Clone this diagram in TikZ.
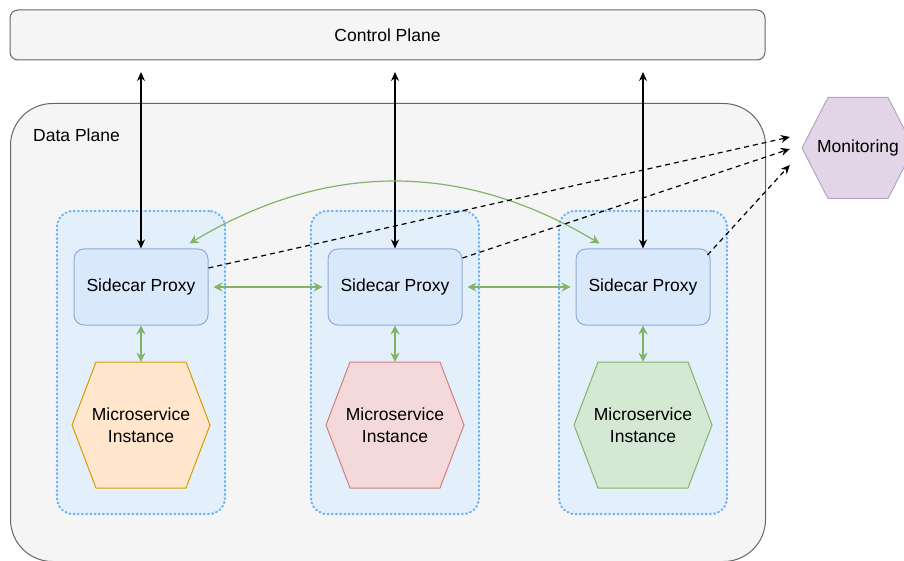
\documentclass[tikz,border=0pt]{standalone}
\usepackage{fontspec}
\setmainfont{Liberation Sans}
\usetikzlibrary{arrows.meta}

\definecolor{planefill}{HTML}{F5F5F5}
\definecolor{planeline}{HTML}{666666}
\definecolor{podfill}{HTML}{E3F0FB}
\definecolor{podline}{HTML}{66B2FF}
\definecolor{proxyfill}{HTML}{DAE8FC}
\definecolor{proxyline}{HTML}{8EACD6}
\definecolor{linkgreen}{HTML}{82B366}
\definecolor{orangefill}{HTML}{FFE6CC}
\definecolor{orangeline}{HTML}{D79B00}
\definecolor{redfill}{HTML}{F4D9DA}
\definecolor{redline}{HTML}{CF7F7F}
\definecolor{greenfill}{HTML}{D5E8D4}
\definecolor{greenline}{HTML}{82B366}
\definecolor{monfill}{HTML}{E1D5E7}
\definecolor{monline}{HTML}{B9A2C8}

\newcommand\boxfont{\fontsize{17.5}{22}\selectfont}

\tikzset{
  plane/.style={draw=planeline, fill=planefill, line width=1pt},
  pod/.style={draw=podline, fill=podfill, line width=2.2pt, line cap=round,
    dash pattern=on 0.8pt off 3.4pt, rounded corners=16,
    minimum width=168, minimum height=303},
  proxy/.style={draw=proxyline, fill=proxyfill, line width=1pt, rounded corners=10,
    minimum width=134, minimum height=76},
  hexlabel/.style={align=center, minimum width=138, minimum height=126},
  ctrl/.style={<->, line width=1.2pt, >={Stealth[length=9pt,width=8pt]}},
  link/.style={<->, draw=linkgreen, line width=1.4pt,
    >={Stealth[length=9pt,width=9pt]}},
  metrics/.style={->, line width=1.2pt, dash pattern=on 5pt off 4pt,
    >={Stealth[length=9pt,width=8pt]}}
}

\begin{document}
\begin{tikzpicture}[x=1pt, y=1pt, font=\boxfont]
    \useasboundingbox[fill=white] (0,0) rectangle (904,-561);

    \node[plane, rounded corners=8, minimum width=755, minimum height=50] (cp) at (387.5,-35) {Control Plane};
    \node[plane, rounded corners=42, minimum width=755, minimum height=458, anchor=north west] (dp) at (10,-103) {};
    \node[anchor=west, inner sep=0] (dplabel) at (33,-135) {Data Plane};

    % Monitoring hexagon
    \draw[fill=monfill, draw=monline, line width=1pt, shift={(858,-148)}]
      (-56,0) -- (-30,50.5) -- (30,50.5) -- (56,0) -- (30,-50.5) -- (-30,-50.5) -- cycle;
    \node[minimum width=112, minimum height=101] (mon) at (858,-148) {Monitoring};
    \coordinate (mon1) at ([shift={(-12,11)}]mon.west);
    \coordinate (mon2) at ([shift={(-12,-1)}]mon.west);
    \coordinate (mon3) at ([shift={(-12,-17)}]mon.west);

    \foreach \n/\x/\msfill/\msline in {1/141/orangefill/orangeline, 2/395/redfill/redline, 3/643/greenfill/greenline} {
      \node[pod] (pod\n) at (\x,-362.5) {};
      \node[proxy] (sp\n) at (\x,-287) {Sidecar Proxy};

      \draw[fill=\msfill, draw=\msline, line width=1pt, shift={(\x,-425)}]
        (-69,0) -- (-45,63) -- (45,63) -- (69,0) -- (45,-63) -- (-45,-63) -- cycle;
      \node[hexlabel] (ms\n) at (\x,-425) {Microservice\\Instance};

      \draw[link] (sp\n.south) -- (ms\n.north);

      \coordinate (cpin\n) at (sp\n.north |- 0,-72);
      \draw[ctrl] (cpin\n) -- (sp\n.north);
    }

    % Links between proxies
    \draw[link, shorten <=5pt, shorten >=5pt] (sp1) -- (sp2);
    \draw[link, shorten <=5pt, shorten >=5pt] (sp2) -- (sp3);
    \draw[link, line width=1.2pt] ([xshift=-19,yshift=5]sp1.north east) to[bend left=31] ([xshift=24,yshift=5]sp3.north west);

    % Metrics to monitoring
    \draw[metrics] ([yshift=19]sp1.east) -- (mon1);
    \draw[metrics] ([yshift=29]sp2.east) -- (mon2);
    \draw[metrics] ([shift={(-3,32)}]sp3.east) -- (mon3);

  \end{tikzpicture}
\end{document}
